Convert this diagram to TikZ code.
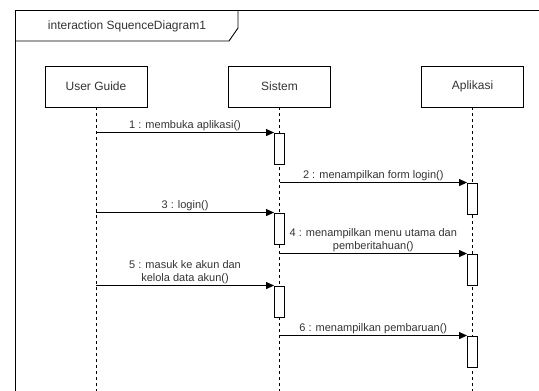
\documentclass[tikz,border=0pt]{standalone}
\usepackage{fontspec}
\setmainfont{Liberation Sans}
\usetikzlibrary{arrows.meta}
\definecolor{txt}{HTML}{333333}
\tikzset{
  x=1pt, y=-1pt,
  every node/.style={text=txt},
  thin line/.style={line width=0.9pt, draw=black},
  lifebox/.style={thin line, fill=white, minimum width=102pt, minimum height=41pt,
    inner sep=0pt, font=\fontsize{12}{14}\selectfont},
  actbox/.style={thin line, fill=white, minimum width=10pt, minimum height=31pt, inner sep=0pt},
  lifeline/.style={line width=0.8pt, dash pattern=on 3pt off 3pt},
  msg/.style={thin line, -{Triangle[length=8pt,width=7pt]}},
  lbl/.style={font=\fontsize{11}{13.5}\selectfont, align=center, inner sep=1pt}
}
\begin{document}
\begin{tikzpicture}
\useasboundingbox (0,0) rectangle (539,391);

% frame and title tab
\draw[thin line] (15,391) -- (15,10) -- (539,10);
\draw[thin line] (15,41) -- (229,41) -- (238,28) -- (238,10);
\node[font=\fontsize{12}{14}\selectfont] (title) at (127,26) {interaction SquenceDiagram1};

% participants
\node[lifebox] (ug)  at (96,86.5)    {User Guide};
\node[lifebox] (sis) at (279.5,86.5) {Sistem};
\node[lifebox] (app) at (472.5,86.5) {Aplikasi};

\coordinate (bottom) at (0,391);
\draw[lifeline] (ug.south)  -- (ug |- bottom);
\draw[lifeline] (sis.south) -- (sis |- bottom);
\draw[lifeline] (app.south) -- (app |- bottom);

% activations
\node[actbox] (s1) at (279.5,148.5) {};
\node[actbox] (a1) at (472.5,198.5) {};
\node[actbox] (s2) at (279.5,228.5) {};
\node[actbox] (a2) at (472.5,269.5) {};
\node[actbox] (s3) at (279.5,301.5) {};
\node[actbox] (a3) at (472.5,351.5) {};

% messages
\draw[msg] (ug |- s1.north west) -- (s1.north west)
  node[lbl, midway, above] (m1) {1 : membuka aplikasi()};
\draw[msg] (sis |- a1.north west) -- (a1.north west)
  node[lbl, midway, above] (m2) {2 : menampilkan form login()};
\draw[msg] (ug |- s2.north west) -- (s2.north west)
  node[lbl, midway, above] (m3) {3 : login()};
\draw[msg] (sis |- a2.north west) -- (a2.north west)
  node[lbl, midway, above] (m4) {4 : menampilkan menu utama dan\\pemberitahuan()};
\draw[msg] (ug |- s3.north west) -- (s3.north west)
  node[lbl, midway, above] (m5) {5 : masuk ke akun dan\\kelola data akun()};
\draw[msg] (sis |- a3.north west) -- (a3.north west)
  node[lbl, midway, above] (m6) {6 : menampilkan pembaruan()};
\end{tikzpicture}
\end{document}
